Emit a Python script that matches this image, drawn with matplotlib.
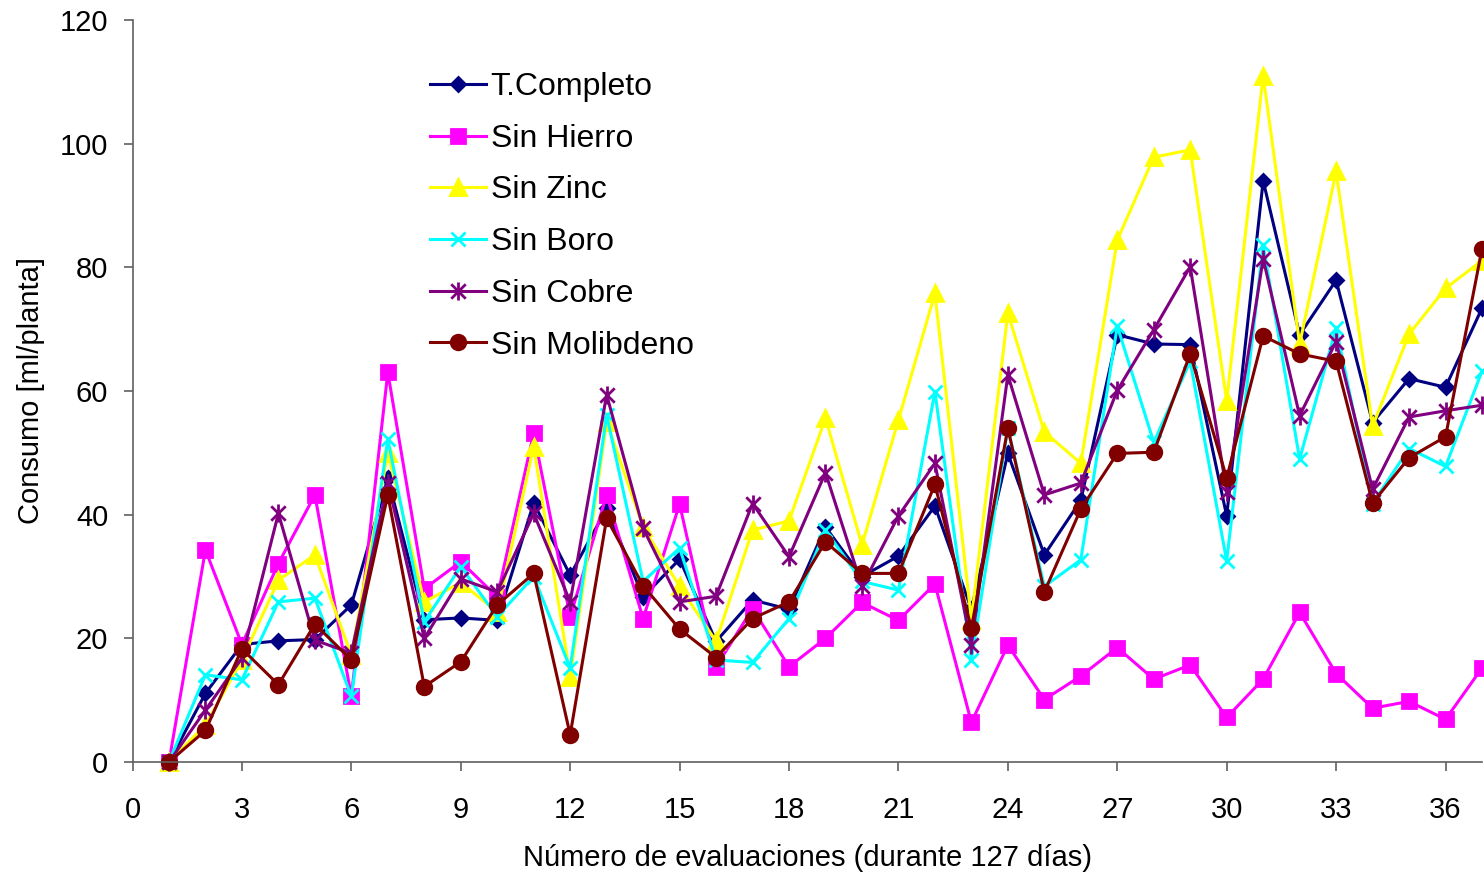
import matplotlib.pyplot as plt
from matplotlib.path import Path

plt.rcParams['font.family'] = ['Liberation Sans', 'DejaVu Sans']

evaluaciones = list(range(1, 38))
t_completo = [0, 11.1, 19, 19.6, 19.8, 25.4, 45.9, 23, 23.3, 22.9, 41.9, 30.2, 41, 26.7, 32.8, 19.5, 26.2, 24.7, 38,
              30, 33.3, 41.4, 24.7, 49.9, 33.5, 42.3, 69.1, 67.6, 67.5, 39.8, 94, 69.1, 77.9, 54.9, 62, 60.6, 73.4]
sin_hierro = [0, 34.3, 19, 32.1, 43.2, 10.6, 63, 28, 32.4, 26.7, 53.2, 23.5, 43.2, 23.2, 41.7, 15.4, 24.8, 15.4, 20,
              25.8, 22.9, 28.8, 6.4, 18.9, 10.1, 13.9, 18.5, 13.4, 15.7, 7.2, 13.4, 24.2, 14.3, 8.7, 9.8, 6.9, 15.2]
sin_zinc = [0, 6, 16.5, 29.4, 33.5, 17.3, 50, 25.9, 29, 24.3, 51, 13.8, 55, 38, 28.4, 19.5, 37.5, 39, 55.6,
            35.1, 55.3, 75.8, 23, 72.6, 53.4, 48.3, 84.4, 97.8, 99, 58.4, 111, 67.6, 95.5, 54.3, 69.2, 76.6, 81.1]
sin_boro = [0, 14.1, 13.3, 25.9, 26.5, 10.6, 52.2, 22.7, 31.6, 23.5, 30, 15.2, 56.1, 29.2, 34.6, 16.5, 16.1, 23.2, 37.5,
            29.2, 27.8, 59.9, 16.5, 54, 28.4, 32.7, 70.5, 51.7, 64.8, 32.5, 83.6, 49, 70.2, 41.8, 50.7, 47.8, 63.2]
sin_cobre = [0, 8.4, 16.8, 40.2, 19.7, 17.6, 45.2, 20, 29.6, 27.5, 40.2, 25.9, 59.4, 37.8, 25.9, 26.8, 41.8, 33.2, 46.8,
             28.4, 39.8, 48.3, 18.9, 62.6, 43.2, 45.1, 60.1, 69.9, 80.1, 43.7, 81.4, 56, 68, 44.1, 55.8, 56.8, 57.7]
sin_molibdeno = [0, 5.1, 18.3, 12.5, 22.3, 16.5, 43.2, 12.2, 16.2, 25.4, 30.5, 4.4, 39.4, 28.5, 21.5, 16.9, 23.2, 25.9,
                 35.6, 30.5, 30.5, 44.9, 21.6, 54, 27.5, 40.9, 49.9, 50.1, 66, 45.9, 68.9, 66, 64.8, 41.9, 49.2, 52.6, 83]

# excel style star: an x with a vertical bar
star = Path([(-1, -1), (1, 1), (-1, 1), (1, -1), (0, -1.25), (0, 1.25)],
            [Path.MOVETO, Path.LINETO, Path.MOVETO, Path.LINETO, Path.MOVETO, Path.LINETO])

series = [
    ('T.Completo', t_completo, '#000080', 'D', 7.5),
    ('Sin Hierro', sin_hierro, '#FF00FF', 's', 10),
    ('Sin Zinc', sin_zinc, '#FFFF00', '^', 11),
    ('Sin Boro', sin_boro, '#00FFFF', 'x', 10),
    ('Sin Cobre', sin_cobre, '#800080', star, 13),
    ('Sin Molibdeno', sin_molibdeno, '#800000', 'o', 10.5),
]

fig = plt.figure(figsize=(14.84, 8.76), dpi=100)
ax = fig.add_axes([132.5 / 1484, 1 - 762 / 876, (1482 - 132.5) / 1484, (762 - 20) / 876])

for name, vals, color, marker, ms in series:
    ax.plot(evaluaciones, vals, color=color, marker=marker, markersize=ms, markeredgewidth=2,
            linewidth=2.2, label=name, clip_on=False)

ax.set_xlim(0, 37)
ax.set_ylim(0, 120)
ax.set_xticks(range(0, 37, 3))
ax.set_yticks(range(0, 121, 20))

for side in ['top', 'right']:
    ax.spines[side].set_visible(False)
for side in ['left', 'bottom']:
    ax.spines[side].set_color('#606060')
    ax.spines[side].set_linewidth(1.2)
ax.tick_params(axis='both', colors='#606060', labelcolor='black', labelsize=21, length=6.5, width=1.2)
ax.tick_params(axis='x', pad=18)
ax.tick_params(axis='y', pad=11)

ax.set_xlabel('Número de evaluaciones (durante 127 días)', fontsize=21, labelpad=14.5)
ax.set_ylabel('Consumo [ml/planta]', fontsize=21, labelpad=10.5)

ax.legend(loc='upper left', bbox_to_anchor=(430 / 1484, 1 - 72 / 876), bbox_transform=fig.transFigure,
          frameon=False, fontsize=23, handlelength=1.75, handletextpad=0.15, labelspacing=0.68,
          borderpad=0, borderaxespad=0)

plt.savefig('out.png', dpi=100)
